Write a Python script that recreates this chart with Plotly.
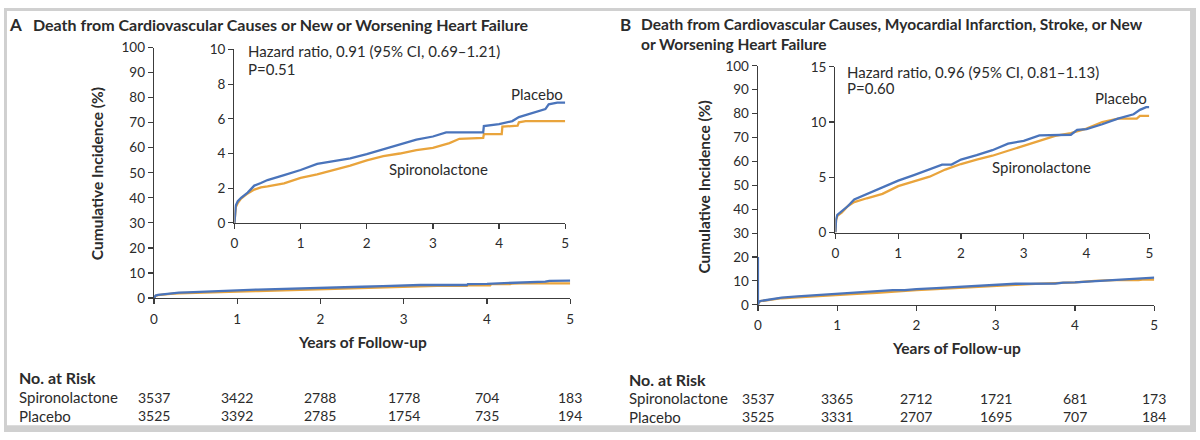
import plotly.graph_objects as go

# ---------------- data ----------------
years = [0, 1, 2, 3, 4, 5]

# Panel A (death from CV causes or new/worsening HF), cumulative incidence %
a_plac_t = [0, 0.02, 0.05, 0.1, 0.2, 0.3, 0.4, 0.5, 0.75, 1.0, 1.25, 1.5, 1.75, 2.0, 2.25, 2.5,
            2.75, 3.0, 3.2, 3.76, 3.77, 4.0, 4.2, 4.3, 4.5, 4.7, 4.75, 4.88, 5.0]
a_plac_y = [0, 1.0, 1.25, 1.45, 1.75, 2.15, 2.3, 2.47, 2.75, 3.05, 3.4, 3.58, 3.72, 3.96, 4.24, 4.52,
            4.8, 4.98, 5.22, 5.22, 5.58, 5.69, 5.87, 6.1, 6.32, 6.56, 6.84, 6.93, 6.93]
a_spiro_t = [0, 0.02, 0.05, 0.1, 0.2, 0.3, 0.4, 0.5, 0.75, 1.0, 1.25, 1.5, 1.75, 2.0, 2.25, 2.5,
             2.75, 3.0, 3.25, 3.4, 3.76, 3.77, 4.04, 4.05, 4.28, 4.3, 4.4, 5.0]
a_spiro_y = [0, 0.9, 1.15, 1.4, 1.7, 1.92, 2.05, 2.1, 2.28, 2.6, 2.8, 3.05, 3.3, 3.6, 3.85, 4.0,
             4.2, 4.33, 4.6, 4.85, 4.9, 5.12, 5.12, 5.55, 5.6, 5.8, 5.87, 5.87]

# Panel B (CV death, MI, stroke, or new/worsening HF)
b_plac_t = [0, 0.01, 0.03, 0.1, 0.2, 0.3, 0.5, 0.75, 1.0, 1.25, 1.5, 1.7, 1.85, 2.0, 2.25, 2.5,
            2.75, 3.0, 3.25, 3.75, 3.85, 4.0, 4.25, 4.5, 4.75, 4.85, 4.95, 5.0]
b_plac_y = [0, 1.2, 1.6, 1.9, 2.4, 3.0, 3.5, 4.1, 4.7, 5.2, 5.75, 6.15, 6.15, 6.6, 7.0, 7.45,
            8.05, 8.3, 8.8, 8.85, 9.3, 9.35, 9.8, 10.3, 10.7, 11.1, 11.35, 11.35]
b_spiro_t = [0, 0.01, 0.03, 0.1, 0.2, 0.3, 0.5, 0.75, 1.0, 1.25, 1.5, 1.75, 2.0, 2.25, 2.5,
             2.75, 3.0, 3.25, 3.5, 3.75, 4.0, 4.25, 4.5, 4.8, 4.85, 5.0]
b_spiro_y = [0, 1.1, 1.5, 1.8, 2.4, 2.75, 3.1, 3.5, 4.2, 4.6, 5.05, 5.7, 6.2, 6.6, 6.95,
             7.4, 7.85, 8.3, 8.75, 9.0, 9.4, 10.0, 10.3, 10.3, 10.55, 10.55]
# short vertical blue stroke at t=0 visible on the full-scale panel B
b_main_stub_t = [0, 0]
b_main_stub_y = [0, 20]

risk_a_spiro = [3537, 3422, 2788, 1778, 704, 183]
risk_a_plac = [3525, 3392, 2785, 1754, 735, 194]
risk_b_spiro = [3537, 3365, 2712, 1721, 681, 173]
risk_b_plac = [3525, 3331, 2707, 1695, 707, 184]

main_ticks = [0, 10, 20, 30, 40, 50, 60, 70, 80, 90, 100]
inset_a_ticks = [0, 2, 4, 6, 8, 10]
inset_b_ticks = [0, 5, 10, 15]

# ---------------- style ----------------
W, H = 1200, 440
BLUE = "#4a74bb"
ORANGE = "#e9a43c"
TXT = "#2b2b2b"
AX = "#3c3c3c"
FRAME = "#d0d0d0"
FONT = "Lato"


def px(x):
    return x / W


def py(y):
    return 1 - y / H


fig = go.Figure()

pairs = [
    ("x", "y", a_spiro_t, a_spiro_y, a_plac_t, a_plac_y),
    ("x2", "y2", a_spiro_t, a_spiro_y, a_plac_t, a_plac_y),
    ("x3", "y3", b_spiro_t, b_spiro_y, b_plac_t, b_plac_y),
    ("x4", "y4", b_spiro_t, b_spiro_y, b_plac_t, b_plac_y),
]
for xa, ya, st, sy, pt, pyv in pairs:
    fig.add_trace(go.Scatter(x=st, y=sy, xaxis=xa, yaxis=ya, mode="lines",
                             line=dict(color=ORANGE, width=2.3), name="Spironolactone",
                             showlegend=False, hoverinfo="skip"))
    fig.add_trace(go.Scatter(x=pt, y=pyv, xaxis=xa, yaxis=ya, mode="lines",
                             line=dict(color=BLUE, width=2.3), name="Placebo",
                             showlegend=False, hoverinfo="skip"))
fig.add_trace(go.Scatter(x=b_main_stub_t, y=b_main_stub_y, xaxis="x3", yaxis="y3", mode="lines",
                         line=dict(color=BLUE, width=2.3), showlegend=False, hoverinfo="skip",
                         cliponaxis=False))


def axstyle(**kw):
    d = dict(showline=True, linecolor=AX, linewidth=1.3, ticks="outside", ticklen=5,
             tickwidth=1.2, tickcolor=AX, showgrid=False, zeroline=False,
             tickfont=dict(family=FONT, size=13.5, color=TXT), fixedrange=True)
    d.update(kw)
    return d


fig.update_layout(
    width=W, height=H,
    margin=dict(l=0, r=0, t=0, b=0),
    paper_bgcolor="white", plot_bgcolor="rgba(0,0,0,0)",
    font=dict(family=FONT, color=TXT),
    showlegend=False,
    # panel A main
    xaxis=axstyle(domain=[px(151), px(570)], range=[0, 5], tickvals=years, anchor="y",
                  ticklabelstandoff=3),
    yaxis=axstyle(domain=[py(301), py(41)], range=[0, 100], tickvals=main_ticks, anchor="x"),
    # panel A inset
    xaxis2=axstyle(domain=[px(232), px(565)], range=[0, 5], tickvals=years, anchor="y2",
                   ticklabelstandoff=3),
    yaxis2=axstyle(domain=[py(223), py(43)], range=[0, 10], tickvals=inset_a_ticks, anchor="x2"),
    # panel B main
    xaxis3=axstyle(domain=[px(759), px(1158)], range=[0, 5], tickvals=years, anchor="y3",
                   ticklabelstandoff=3),
    yaxis3=axstyle(domain=[py(308), py(60)], range=[0, 100], tickvals=main_ticks, anchor="x3"),
    # panel B inset
    xaxis4=axstyle(domain=[px(837), px(1153)], range=[0, 5], tickvals=years, anchor="y4",
                   ticklabelstandoff=3),
    yaxis4=axstyle(domain=[py(233), py(61)], range=[0, 15], tickvals=inset_b_ticks, anchor="x4"),
)

ann = []


def text(x, y, s, size=15, bold=False, xanchor="left", angle=0, xref="paper", yanchor="middle"):
    if bold:
        s = "<b>" + s + "</b>"
    ann.append(dict(x=x if xref != "paper" else px(x), y=py(y), xref=xref, yref="paper",
                    text=s, showarrow=False, xanchor=xanchor, yanchor=yanchor,
                    textangle=angle, font=dict(family=FONT, size=size, color=TXT)))


# titles
text(3, 17, "A", size=17, bold=True)
text(27, 17, "Death from Cardiovascular Causes or New or Worsening Heart Failure", size=16, bold=True)
text(618, 17, "B", size=17, bold=True)
text(639, 17, "Death from Cardiovascular Causes, Myocardial Infarction, Stroke, or New", size=15.5, bold=True)
text(639, 37, "or Worsening Heart Failure", size=15.5, bold=True)

# axis titles
text(93, 172, "Cumulative Incidence (%)", size=15.5, bold=True, xanchor="center", angle=-90)
text(705, 186, "Cumulative Incidence (%)", size=15.5, bold=True, xanchor="center", angle=-90)
text(361, 347, "Years of Follow-up", size=15.5, bold=True, xanchor="center")
text(959, 353, "Years of Follow-up", size=15.5, bold=True, xanchor="center")

# inset annotations
text(244, 45, "Hazard ratio, 0.91 (95% CI, 0.69\u20131.21)")
text(244, 63, "P=0.51")
text(565, 89, "Placebo", xanchor="right")
text(386, 167, "Spironolactone")
text(847, 66, "Hazard ratio, 0.96 (95% CI, 0.81\u20131.13)")
text(847, 83, "P=0.60")
text(1153, 93, "Placebo", xanchor="right")
text(993, 165, "Spironolactone")

# risk tables
text(13, 383, "No. at Risk", size=16, bold=True)
text(13, 404, "Spironolactone")
text(13, 423, "Placebo")
text(627, 385, "No. at Risk", size=16, bold=True)
text(627, 405, "Spironolactone")
text(627, 424, "Placebo")
for yr, s, p in zip(years, risk_a_spiro, risk_a_plac):
    text(yr, 404, str(s), size=14, xanchor="center", xref="x")
    text(yr, 423, str(p), size=14, xanchor="center", xref="x")
for yr, s, p in zip(years, risk_b_spiro, risk_b_plac):
    text(yr, 405, str(s), size=14, xanchor="center", xref="x3")
    text(yr, 424, str(p), size=14, xanchor="center", xref="x3")

fig.update_layout(annotations=ann)

# outer grey frame (left, top, right, bottom strips)
for x0, x1, y0, y1 in [(0, 3, 0, H), (0, W, 0, 3), (W - 6, W, 0, H), (0, W, H - 7, H)]:
    fig.add_shape(type="rect", xref="paper", yref="paper", x0=px(x0), x1=px(x1),
                  y0=py(y1), y1=py(y0), line=dict(width=0), fillcolor=FRAME, layer="above")

fig.write_html("out.html",
               config={"displayModeBar": False, "staticPlot": True},
               post_script="document.body.style.margin='0';document.body.style.overflow='hidden';")
